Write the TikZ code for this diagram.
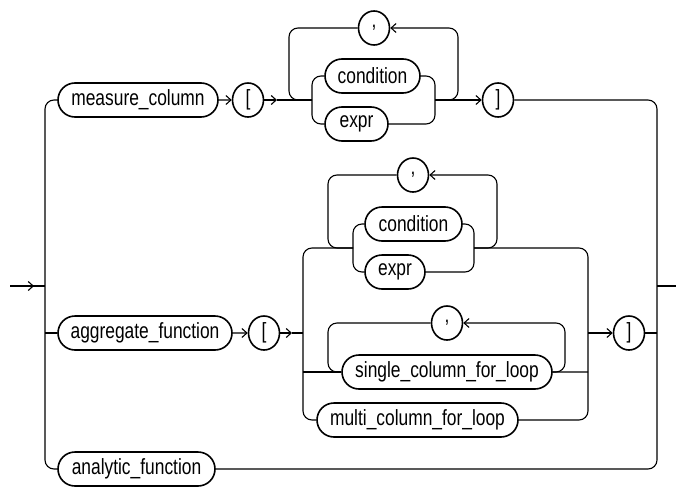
\documentclass[tikz,border=0pt]{standalone}
\usepackage{fontspec}
\setmainfont{Liberation Sans}[FakeStretch=0.79]
\usetikzlibrary{arrows.meta,shapes.misc,shapes.geometric}

\begin{document}
\begin{tikzpicture}[
        x=1pt, y=-1pt,
        font=\fontsize{22}{24}\selectfont,
        pill/.style={rounded rectangle, draw, line width=1.6pt,
                     minimum height=34pt, inner sep=0pt},
        sym/.style={ellipse, draw, line width=1.6pt, minimum width=31pt,
                    minimum height=34pt, inner sep=0pt},
        line/.style={draw, line width=1.1pt, rounded corners=9pt},
        arr/.style={line, -{Straight Barb[length=5pt,width=9pt]}},
    ]
    \useasboundingbox (0,0) rectangle (676,487);

    \coordinate (start) at (10,286);
    \coordinate (entip) at (34,286);
    \coordinate (jl) at (45,286);
    \coordinate (jr) at (657,286);
    \coordinate (exit) at (676,286);

    \node[pill, minimum width=160pt] (mcol) at (138,100) {measure\_column};
    \node[pill, minimum width=174pt] (agg) at (145,333) {aggregate\_function};
    \node[pill, minimum width=157pt] (ana) at (136.5,469) {analytic\_function};

    \draw[line] (start) -- (jl);
    \draw[arr] (start) -- (entip);
    \draw[line] (mcol) -| (jl) |- (ana);
    \draw[line] (agg -| jl) -- (agg);
    \draw[line] (jr) -- (exit);

    \node[sym] (lb1) at (248,100) {[};
    \node[sym] (cm1) at (374,28) {,};
    \node[pill, minimum width=95pt] (cnd1) at (372.5,76) {condition};
    \node[pill, minimum width=63pt] (exp1) at (356.5,124) {expr};
    \node[sym] (rb1) at (498,100) {]};

    \coordinate (m1) at (277,100);
    \coordinate (lp1l) at (289,100);
    \coordinate (a1l) at (312,100);
    \coordinate (a1r) at (435,100);
    \coordinate (lp1r) at (458,100);

    \draw[arr] (mcol) -- (lb1);
    \draw[arr] (lb1) -- (m1);
    \draw[line] (m1) -- (a1l);
    \draw[line] (cnd1) -| (a1l) |- (exp1);
    \draw[line] (cnd1) -| (a1r) |- (exp1);
    \draw[arr] (a1r) -- (lp1r) |- (cm1);
    \draw[line] (cm1) -| (lp1l) -- (a1l);
    \draw[arr] (a1r) -- (rb1);
    \draw[line] (rb1) -| (jr) |- (ana);

    \node[sym] (lb2) at (264,333) {[};
    \node[sym] (cm2) at (413,175) {,};
    \node[pill, minimum width=97pt] (cnd2) at (413.5,224) {condition};
    \node[pill, minimum width=60pt] (exp2) at (395,272) {expr};
    \node[sym] (cm3) at (447,323) {,};
    \node[pill, minimum width=210pt] (sgl) at (447,372) {single\_column\_for\_loop};
    \node[pill, minimum width=201pt] (mul) at (417.5,420) {multi\_column\_for\_loop};
    \node[sym] (rb2) at (629,333) {]};

    \coordinate (m2) at (292,333);
    \coordinate (a2l) at (303,333);
    \coordinate (lp2l) at (328,248);
    \coordinate (t2a) at (353,248);
    \coordinate (t2b) at (474,248);
    \coordinate (lp2r) at (497,248);
    \coordinate (b2r) at (588,333);
    \coordinate (lp3l) at (328,372);
    \coordinate (lp3r) at (565,372);

    \draw[arr] (agg) -- (lb2);
    \draw[arr] (lb2) -- (m2);
    \draw[line] (m2) -- (a2l);
    \draw[line] (t2a) -| (a2l) |- (mul);
    \draw[line] (cnd2) -| (t2a) |- (exp2);
    \draw[line] (cnd2) -| (t2b) |- (exp2);
    \draw[line] (cm2) -| (lp2l) -- (t2a);
    \draw[arr] (t2b) -- (lp2r) |- (cm2);
    \draw[line] (t2b) -| (b2r) |- (mul);
    \draw[line] (sgl -| a2l) -- (sgl);
    \draw[line] (cm3) -| (lp3l) -- (sgl);
    \draw[arr] (sgl) -- (lp3r) |- (cm3);
    \draw[line] (sgl) -- (sgl -| b2r);
    \draw[arr] (b2r) -- (rb2);
    \draw[line] (rb2) -- (rb2 -| jr);

\end{tikzpicture}
\end{document}
